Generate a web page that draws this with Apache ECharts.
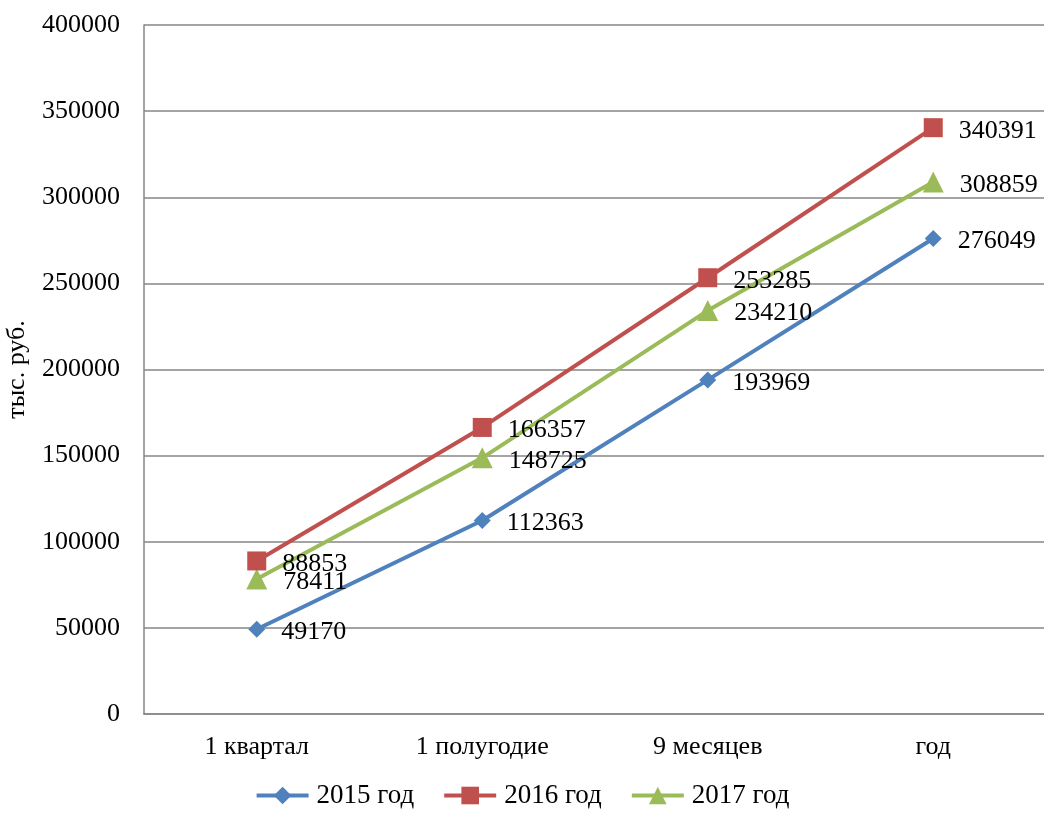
<!DOCTYPE html>
<html>
<head>
<meta charset="utf-8">
<script src="https://cdn.jsdelivr.net/npm/echarts@6/dist/echarts.min.js"></script>
<style>
  html, body { margin: 0; padding: 0; background: #fff; }
  #chart { width: 1044px; height: 814px; }
</style>
</head>
<body>
<div id="chart"></div>
<script>
// Periods and cumulative totals, thousand roubles
const categories = ['1 квартал', '1 полугодие', '9 месяцев', 'год'];
const seriesNames = ['2015 год', '2016 год', '2017 год'];
const values2015 = [49170, 112363, 193969, 276049];
const values2016 = [88853, 166357, 253285, 340391];
const values2017 = [78411, 148725, 234210, 308859];
const yTicks = [0, 50000, 100000, 150000, 200000, 250000, 300000, 350000, 400000];

const FONT = '"Liberation Serif", "Times New Roman", serif';
const FS = 26;
const colors = ['#4F81BD', '#C0504D', '#9BBB59'];
const symbols = ['diamond', 'rect', 'triangle'];
const symbolSizes = [17, 19, 21];
const dataSets = [values2015, values2016, values2017];

const chart = echarts.init(document.getElementById('chart'), null, { renderer: 'canvas' });

chart.setOption({
  animation: false,
  backgroundColor: '#ffffff',
  color: colors,
  grid: { left: 144, top: 25, width: 902, height: 689, containLabel: false, outerBoundsMode: 'none' },
  legend: {
    bottom: 0,
    left: 'center',
    itemWidth: 52,
    itemHeight: 22,
    itemGap: 28,
    lineStyle: { width: 4 },
    textStyle: { fontFamily: FONT, fontSize: 27, color: '#000', padding: [0, 0, 0, 3] },
    data: seriesNames
  },
  xAxis: {
    type: 'category',
    data: categories,
    boundaryGap: true,
    axisLine: { show: true, lineStyle: { color: '#868686', width: 1.5 } },
    axisTick: { show: false },
    axisLabel: { margin: 20, fontFamily: FONT, fontSize: FS, color: '#000' }
  },
  yAxis: {
    type: 'value',
    min: yTicks[0],
    max: yTicks[yTicks.length - 1],
    interval: 50000,
    name: 'тыс. руб.',
    nameLocation: 'middle',
    nameGap: 114,
    nameRotate: 90,
    nameTextStyle: { fontFamily: FONT, fontSize: FS, color: '#000' },
    axisLine: { show: true, lineStyle: { color: '#868686', width: 1.5 } },
    axisTick: { show: false },
    splitLine: { show: true, lineStyle: { color: '#868686', width: 1.5 } },
    axisLabel: {
      margin: 24, fontFamily: FONT, fontSize: FS, color: '#000',
      formatter: (v) => String(v)
    }
  },
  series: seriesNames.map((name, i) => ({
    name: name,
    type: 'line',
    data: dataSets[i],
    symbol: symbols[i],
    symbolSize: symbolSizes[i],
    showAllSymbol: true,
    lineStyle: { width: 4, color: colors[i] },
    itemStyle: { color: colors[i] },
    label: {
      show: true,
      position: 'right',
      distance: 16,
      offset: [0, 3],
      fontFamily: FONT,
      fontSize: FS,
      color: '#000'
    },
    z: [2, 4, 3][i]
  }))
});
</script>
</body>
</html>
